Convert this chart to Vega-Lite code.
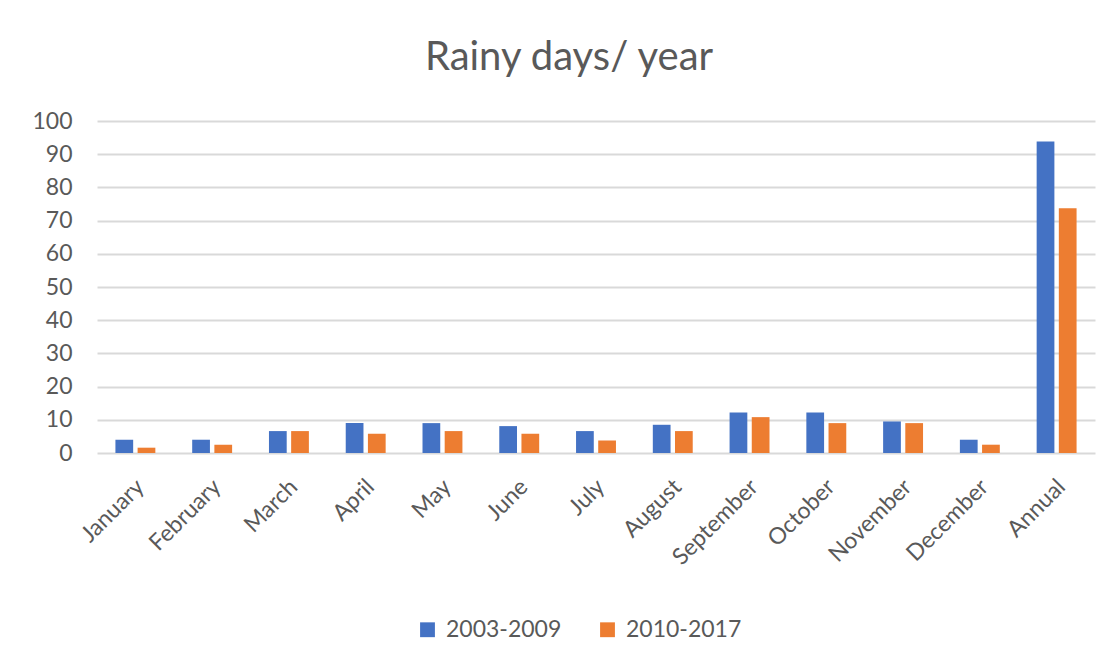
{
  "$schema": "https://vega.github.io/schema/vega-lite/v6.json",
  "width": 998,
  "height": 332,
  "autosize": {"type": "none"},
  "padding": {"left": 97, "top": 121, "right": 25, "bottom": 216},
  "background": "white",
  "title": {
    "text": "Rainy days/ year",
    "fontSize": 40,
    "font": "Lato",
    "fontWeight": "normal",
    "color": "#595959",
    "anchor": "middle",
    "offset": 32,
    "dx": -27
  },
  "data": {
    "values": [
      {"month": "January", "period": "2003-2009", "days": 4},
      {"month": "January", "period": "2010-2017", "days": 1.6},
      {"month": "February", "period": "2003-2009", "days": 4},
      {"month": "February", "period": "2010-2017", "days": 2.5},
      {"month": "March", "period": "2003-2009", "days": 6.6},
      {"month": "March", "period": "2010-2017", "days": 6.6},
      {"month": "April", "period": "2003-2009", "days": 9},
      {"month": "April", "period": "2010-2017", "days": 5.8},
      {"month": "May", "period": "2003-2009", "days": 9},
      {"month": "May", "period": "2010-2017", "days": 6.6},
      {"month": "June", "period": "2003-2009", "days": 8.1},
      {"month": "June", "period": "2010-2017", "days": 5.8},
      {"month": "July", "period": "2003-2009", "days": 6.6},
      {"month": "July", "period": "2010-2017", "days": 3.8},
      {"month": "August", "period": "2003-2009", "days": 8.5},
      {"month": "August", "period": "2010-2017", "days": 6.6},
      {"month": "September", "period": "2003-2009", "days": 12.2},
      {"month": "September", "period": "2010-2017", "days": 10.8},
      {"month": "October", "period": "2003-2009", "days": 12.2},
      {"month": "October", "period": "2010-2017", "days": 9},
      {"month": "November", "period": "2003-2009", "days": 9.5},
      {"month": "November", "period": "2010-2017", "days": 9},
      {"month": "December", "period": "2003-2009", "days": 4},
      {"month": "December", "period": "2010-2017", "days": 2.5},
      {"month": "Annual", "period": "2003-2009", "days": 93.8},
      {"month": "Annual", "period": "2010-2017", "days": 73.7}
    ]
  },
  "mark": {"type": "bar"},
  "encoding": {
    "x": {
      "field": "month",
      "type": "nominal",
      "sort": null,
      "scale": {"paddingInner": 0.48, "paddingOuter": 0.24},
      "axis": {
        "title": null,
        "labelAngle": -45,
        "labelAlign": "right",
        "labelBaseline": "middle",
        "labelFontSize": 23,
        "labelFont": "Lato",
        "labelColor": "#595959",
        "labelPadding": 30,
        "labelOffset": 5,
        "labelLimit": 300,
        "domain": false,
        "ticks": false
      }
    },
    "xOffset": {
      "field": "period",
      "type": "nominal",
      "scale": {"paddingInner": 0.2, "paddingOuter": 0}
    },
    "y": {
      "field": "days",
      "type": "quantitative",
      "scale": {"domain": [0, 100], "nice": false},
      "axis": {
        "title": null,
        "values": [0, 10, 20, 30, 40, 50, 60, 70, 80, 90, 100],
        "labelFontSize": 23,
        "labelFont": "Lato",
        "labelColor": "#595959",
        "labelPadding": 25,
        "domain": false,
        "ticks": false,
        "gridColor": "#d9d9d9",
        "gridWidth": 1.8
      }
    },
    "color": {
      "field": "period",
      "type": "nominal",
      "scale": {"domain": ["2003-2009", "2010-2017"], "range": ["#4472C4", "#ED7D31"]},
      "legend": {
        "title": null,
        "orient": "none",
        "direction": "horizontal",
        "legendX": 319,
        "legendY": 497,
        "symbolType": "square",
        "symbolSize": 220,
        "symbolStrokeWidth": 0,
        "labelFontSize": 23,
        "labelFont": "Lato",
        "labelColor": "#595959",
        "labelOffset": 7,
        "columnPadding": 34
      }
    }
  },
  "config": {
    "view": {"stroke": null}
  }
}
